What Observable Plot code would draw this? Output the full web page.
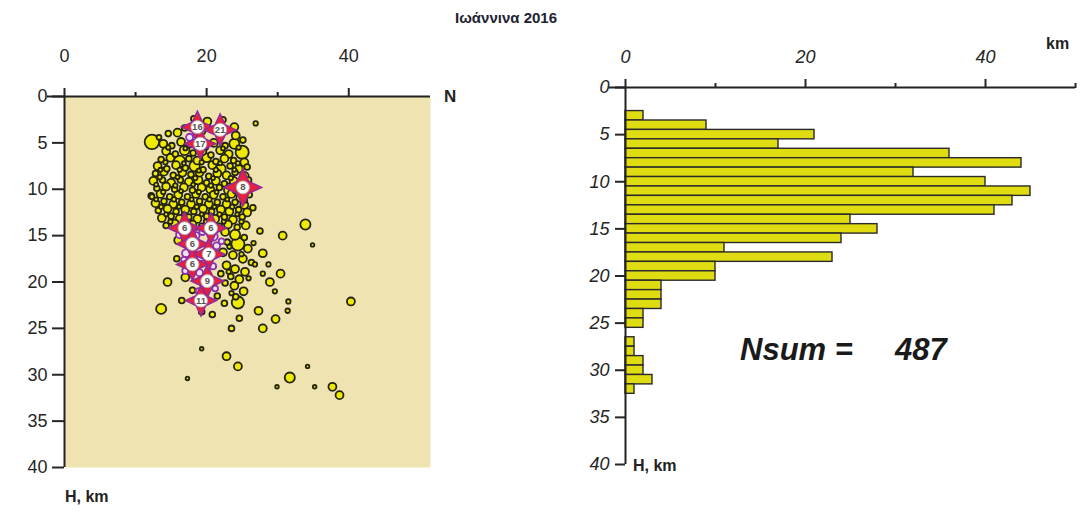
<!DOCTYPE html>
<html><head><meta charset="utf-8">
<script src="https://cdn.jsdelivr.net/npm/d3@7"></script>
<script src="https://cdn.jsdelivr.net/npm/@observablehq/plot@0.6"></script>
<style>
body{margin:0;background:#fff;font-family:"Liberation Sans",Arial,sans-serif;}
#wrap{position:relative;width:1083px;height:513px;overflow:hidden;background:#fff;}
.pane{position:absolute;top:0;}
.lbl{position:absolute;font-weight:bold;color:#222;white-space:nowrap;line-height:1;}
.big{position:absolute;font-weight:bold;font-style:italic;font-size:31px;color:#1a1a1a;white-space:nowrap;line-height:1;}
</style></head><body>
<div id="wrap">
  <div class="lbl" style="left:455px;top:10px;font-size:15px;color:#1c2333;">Ιωάννινα 2016</div>
  <div class="pane" id="leftPane" style="left:0px;"></div>
  <div class="pane" id="rightPane" style="left:560px;"></div>
  <div class="lbl" style="left:444px;top:88px;font-size:17px;">N</div>
  <div class="lbl" style="left:65px;top:489px;font-size:16px;">H, km</div>
  <div class="lbl" style="left:1046px;top:36px;font-size:16px;">km</div>
  <div class="lbl" style="left:633px;top:458px;font-size:16px;">H, km</div>
  <div class="big" style="left:740px;top:334px;">Nsum =</div>
  <div class="big" id="nsumVal" style="left:895px;top:334px;"></div>
</div>
<script>
// ---------- histogram data (right panel) ----------
const depthBins = [3,4,5,6,7,8,9,10,11,12,13,14,15,16,17,18,19,20,21,22,23,24,25,26,27,28,29,30,31,32];
const depthCounts = [2,9,21,17,36,44,32,40,45,43,41,25,28,24,11,23,10,10,4,4,4,2,2,0,1,1,2,2,3,1];

// ---------- axis ticks ----------
const distMajor = [0,20,40];
const leftDistMinor = [10,30];
const rightDistMinor = [10,30,50];
const depthTicks = [0,5,10,15,20,25,30,35,40];

// ---------- hypocentres: [distance km, depth km, magnitude] ----------
const topEvents = [
 [18.2,2.4,1.5],[20.1,2.7,2],[22.3,2.5,1.5],[23.9,3.3,2],[16.9,3.4,1.5],[26.9,2.9,1.2],
 [14.6,4.0,1.5],[13.3,4.4,1.3],[12.3,4.9,3.5],[15.9,3.9,2],[19.3,3.7,2],[21.4,3.5,1.5],[24.1,4.2,2],[25.1,4.7,1.5]
];
const coreEvents = [
 [13.9,5.1,2],[15.1,5.3,1.5],[16.4,4.9,2],[17.6,5.2,1.5],[18.8,5.4,2],[21.0,5.0,2],[22.6,5.3,1.5],[23.9,5.1,2.5],[25.0,6.0,3.2],
 [14.3,5.9,2],[15.6,6.2,1.5],[16.9,5.8,2.4],[18.1,6.1,1.5],[19.4,5.9,2],[20.6,6.3,1.5],[21.9,5.8,2],[23.1,6.2,2],
 [13.6,6.8,1.5],[14.9,6.6,2],[16.2,7.0,2.8],[17.5,6.7,1.5],[18.7,6.9,2],[20.0,6.6,2.2],[21.3,7.0,1.5],[22.5,6.7,2],[23.8,6.9,1.5],[25.3,7.1,2],
 [13.1,7.5,2],[14.4,7.8,1.5],[15.7,7.4,2],[17.0,7.7,1.5],[18.3,7.5,2.6],[19.5,7.9,1.5],[20.8,7.4,2],[22.0,7.8,2.4],[23.3,7.5,1.5],[24.5,7.8,2],[25.7,7.6,1.5],
 [12.8,8.3,1.5],[14.0,8.1,2],[15.3,8.5,1.5],[16.6,8.2,2],[17.8,8.4,1.5],[19.0,8.2,2],[20.3,8.6,1.5],[21.5,8.3,2],[22.8,8.5,2],[24.0,8.2,1.5],[25.3,8.6,2.2],
 [12.5,9.1,2],[13.8,9.0,1.5],[15.0,9.3,2],[16.3,9.0,1.5],[17.5,9.2,2],[18.8,9.0,2.2],[20.0,9.3,1.5],[21.3,9.1,2],[22.5,9.4,1.5],[23.8,9.1,2],[25.9,9.0,1.5],
 [13.0,9.9,1.5],[14.3,9.7,2],[15.5,10.0,1.5],[16.8,9.8,2],[18.0,10.1,1.5],[19.3,9.8,2],[20.5,10.0,2],[21.8,9.8,1.5],[23.0,10.1,2],
 [12.2,10.7,1.5],[13.5,10.5,2],[14.8,10.8,1.5],[16.0,10.6,2],[17.3,10.8,1.5],[18.5,10.5,2],[19.8,10.8,1.5],[21.0,10.6,2],[22.3,10.8,1.5],[23.5,10.5,2],[24.8,10.9,2.2],[26.0,10.6,1.5],
 [12.8,11.5,2],[14.0,11.3,1.5],[15.3,11.6,2],[16.5,11.4,1.5],[17.8,11.6,2],[19.0,11.3,1.5],[20.3,11.6,2],[21.5,11.4,1.5],[22.8,11.6,2],[24.0,11.4,1.5],[25.3,11.7,2],
 [13.2,12.3,1.5],[14.5,12.1,2],[15.7,12.4,1.5],[17.0,12.2,2],[18.2,12.4,1.5],[19.5,12.1,2],[20.7,12.4,1.5],[22.0,12.2,2],[23.2,12.4,2],[24.5,12.2,1.5],[25.7,12.5,2],
 [13.7,13.1,2],[15.0,12.9,1.5],[16.2,13.2,2],[17.5,13.0,1.5],[18.7,13.2,2],[20.0,12.9,1.5],[21.2,13.2,2],[22.5,13.0,1.5],[23.7,13.3,2],[25.0,13.0,1.5],
 [14.3,13.9,1.5],[15.5,13.7,2],[16.8,14.0,1.5],[18.0,13.8,2],[19.3,14.0,1.5],[20.5,13.8,2],[21.8,14.0,1.5],[23.0,13.8,2],[24.3,14.1,1.5],[25.5,13.9,2],
 [12.3,10.8,1.3],[26.5,12.0,1.5]
];
const coreSmallEvents = [
 [14.6,5.5,1.2],[17.0,5.6,1.1],[19.9,5.5,1.2],[22.3,5.6,1.1],[24.5,5.5,1.2],
 [14.2,7.1,1.2],[16.8,7.2,1.1],[19.3,7.1,1.2],[21.9,7.2,1.1],[24.4,7.2,1.2],
 [13.5,7.9,1.1],[16.2,7.9,1.2],[18.9,8.0,1.1],[21.3,7.9,1.2],[23.9,7.9,1.1],
 [13.4,8.7,1.2],[15.9,8.7,1.1],[18.4,8.8,1.2],[20.9,8.8,1.1],[23.4,8.8,1.2],[24.8,9.0,1.1],
 [12.9,9.5,1.1],[15.6,9.6,1.2],[18.1,9.5,1.1],[20.6,9.6,1.2],[23.1,9.6,1.1],
 [13.9,10.3,1.2],[16.4,10.2,1.1],[18.9,10.3,1.2],[21.4,10.3,1.1],[24.0,10.2,1.2],
 [12.9,11.1,1.1],[15.4,11.1,1.2],[17.9,11.1,1.1],[20.4,11.1,1.2],[22.9,11.1,1.1],[25.4,11.2,1.2],
 [13.6,11.9,1.2],[16.1,11.9,1.1],[18.6,11.9,1.2],[21.1,11.9,1.1],[23.6,11.9,1.2],
 [14.3,12.7,1.1],[16.8,12.7,1.2],[19.3,12.7,1.1],[21.8,12.7,1.2],[24.3,12.7,1.1],
 [14.9,13.5,1.2],[17.4,13.5,1.1],[19.9,13.5,1.2],[22.4,13.5,1.1],[24.9,13.5,1.2]
];
const lowerEvents = [
 [22.6,14.6,2],[24.0,14.9,2.5],[25.3,15.2,1.5],[22.9,15.7,1.5],[24.4,15.9,3.2],[25.8,16.4,2],[22.3,16.8,2],[23.7,17.1,2],
 [25.1,17.5,2],[26.3,17.9,1.5],[22.8,18.2,2],[24.0,18.6,2],[25.4,18.9,2],[23.4,19.4,1.5],[24.6,19.7,2],[22.6,20.1,1.5],
 [23.9,20.4,2],[25.2,21.0,2],[24.1,21.6,1.5],[22.5,22.3,1.5],[24.4,22.2,3],[20.8,23.5,1.5],[24.6,23.9,1.5],
 [17.0,19.5,2],[18.0,20.9,1.5],[14.5,20.0,2],[16.5,22.0,1.5],[13.6,22.9,2.5],[21.5,21.5,1.5],[19.3,23.2,1.5],[15.8,17.5,1.5],[16.0,15.5,2],
 [23.2,16.2,1.2],[24.9,17.0,1.2],[23.1,18.9,1.2],[25.9,19.6,1.2],[23.5,21.2,1.2],[26.6,15.8,1.2],[22.0,19.1,1.5]
];
const outerEvents = [
 [33.9,13.8,2.5],[30.7,15.0,2],[34.9,16.0,1],[27.9,16.9,2],[26.8,18.1,1.2],[28.7,18.1,1.2],[30.4,19.1,2],[27.9,19.1,1.2],
 [28.9,20.0,2],[29.6,21.0,1.2],[31.5,22.1,1.2],[31.4,23.1,1.2],[40.3,22.1,2],[27.3,23.1,2],[29.7,24.0,2],[27.9,25.0,2],
 [23.5,25.0,1.5],[24.4,29.1,2],[34.2,29.1,1],[31.7,30.3,2.5],[29.9,31.3,1],[35.2,31.3,1],[37.7,31.3,2],[38.7,32.2,2],
 [22.8,28.0,2],[17.3,30.4,1],[19.3,27.2,1],[27.5,14.5,1.5]
];
const purpleEvents = [
 [19.6,5.0,2],[17.6,4.4,1.8],[21.0,15.1,2],[19.2,17.3,2],[21.4,16.1,1.8],[17.1,16.9,2],[22.1,15.6,1.5],[18.5,15.0,1.8],
 [19.0,19.0,1.8],[17.0,18.8,1.6],[16.2,14.9,1.8],[19.4,14.6,1.6],[20.9,18.3,1.6],[18.9,21.0,1.6],[21.2,20.7,1.5],[16.8,17.6,1.5]
];
// strongest events: [distance, depth, magnitude, label]
const strongEvents = [
 [19.1,5.1,3.5,"17"],[18.7,3.3,3.6,"16"],[21.9,3.6,3.6,"21"],[25.1,9.8,4.2,"8"],
 [16.9,14.2,3.7,"6"],[20.6,14.2,3.5,"6"],[18.0,15.9,3.6,"6"],[20.3,17.0,3.6,"7"],
 [18.0,18.1,3.6,"6"],[20.1,19.9,3.7,"9"],[19.2,22.0,3.5,"11"]
];

// ---------- build tables ----------
const toObj = ([x, d, m, label]) => ({x, d, m, label});
const yellowEvents = [...topEvents, ...coreEvents, ...coreSmallEvents, ...lowerEvents, ...outerEvents].map(toObj);
const purple = purpleEvents.map(toObj);
const strong = strongEvents.map(toObj);
const hist = depthBins.map((d, i) => ({depth: d, count: depthCounts[i]})).filter(r => r.count > 0);

document.getElementById("nsumVal").textContent = d3.sum(depthCounts);

// four-pointed star symbol
const star4 = {
  draw(ctx, size) {
    const R = Math.sqrt(size / Math.PI) * 2.15, r = R * 0.45;
    for (let i = 0; i < 8; i++) {
      const a = i * Math.PI / 4 - Math.PI / 2, rr = i % 2 === 0 ? R : r;
      const x = rr * Math.cos(a), y = rr * Math.sin(a);
      if (i === 0) ctx.moveTo(x, y); else ctx.lineTo(x, y);
    }
    ctx.closePath();
  }
};

const baseStyle = {fontFamily: "Liberation Sans, Arial, sans-serif", fontSize: "18px", color: "#262626", background: "transparent", overflow: "visible"};

// ---------- left panel ----------
const left = Plot.plot({
  width: 470, height: 513,
  marginLeft: 64, marginRight: 40, marginTop: 96, marginBottom: 46,
  x: {domain: [0, 51.5]},
  y: {domain: [0, 40], reverse: true},
  r: {type: "linear", domain: [1, 4.5], range: [1.8, 9.4]},
  style: baseStyle,
  marks: [
    Plot.frame({fill: "#efe3b1", stroke: null}),
    Plot.dot(yellowEvents, {x: "x", y: "d", r: "m", fill: "#eeea06", stroke: "#23230e", strokeWidth: 1.8}),
    Plot.dot(purple, {x: "x", y: "d", r: "m", fill: "#ece4ee", stroke: "#9030b4", strokeWidth: 1.8}),
    Plot.dot(strong, {x: "x", y: "d", r: "m", symbol: star4, fill: "#e6203e", stroke: "#8d2aa0", strokeWidth: 1.4}),
    Plot.dot(strong, {x: "x", y: "d", r: 6.5, fill: "#ffffff", stroke: "#b0b0b0", strokeWidth: 1}),
    Plot.text(strong, {x: "x", y: "d", text: "label", fontSize: 9.5, fontWeight: "bold", fill: "#555"}),
    Plot.axisX({anchor: "top", ticks: distMajor, tickSize: 9, tickPadding: 26, strokeWidth: 2, label: null}),
    Plot.axisX({anchor: "top", ticks: leftDistMinor, tickSize: 5, tickFormat: () => "", strokeWidth: 2, label: null}),
    Plot.axisY({anchor: "left", ticks: depthTicks, tickSize: 12, tickPadding: 5, strokeWidth: 2, label: null}),
    Plot.ruleY([0], {x1: -2.4, x2: 51.5, strokeWidth: 2, stroke: "#222"}),
    Plot.ruleX([0], {y1: 0, y2: 40, strokeWidth: 2, stroke: "#222"})
  ]
});
document.getElementById("leftPane").appendChild(left);

// ---------- right panel ----------
const right = Plot.plot({
  width: 523, height: 513,
  marginLeft: 65, marginRight: 8, marginTop: 87, marginBottom: 49,
  x: {domain: [0, 50]},
  y: {domain: [0, 40], reverse: true},
  style: baseStyle,
  marks: [
    Plot.rectX(hist, {x1: 0, x2: "count", y1: d => d.depth - 0.5, y2: d => d.depth + 0.5, fill: "#e0dc12", stroke: "#2a2a2a", strokeWidth: 1.4}),
    Plot.axisX({anchor: "top", ticks: distMajor, tickSize: 9, tickPadding: 16, strokeWidth: 2, fontStyle: "italic", label: null}),
    Plot.axisX({anchor: "top", ticks: rightDistMinor, tickSize: 5, tickFormat: () => "", strokeWidth: 2, label: null}),
    Plot.axisY({anchor: "left", ticks: depthTicks, tickSize: 10, tickPadding: 6, strokeWidth: 2, fontStyle: "italic", label: null}),
    Plot.ruleY([0], {x1: -1.8, x2: 50, strokeWidth: 2, stroke: "#222"}),
    Plot.ruleX([0], {y1: 0, y2: 40, strokeWidth: 2, stroke: "#222"})
  ]
});
document.getElementById("rightPane").appendChild(right);
</script>
</body></html>
